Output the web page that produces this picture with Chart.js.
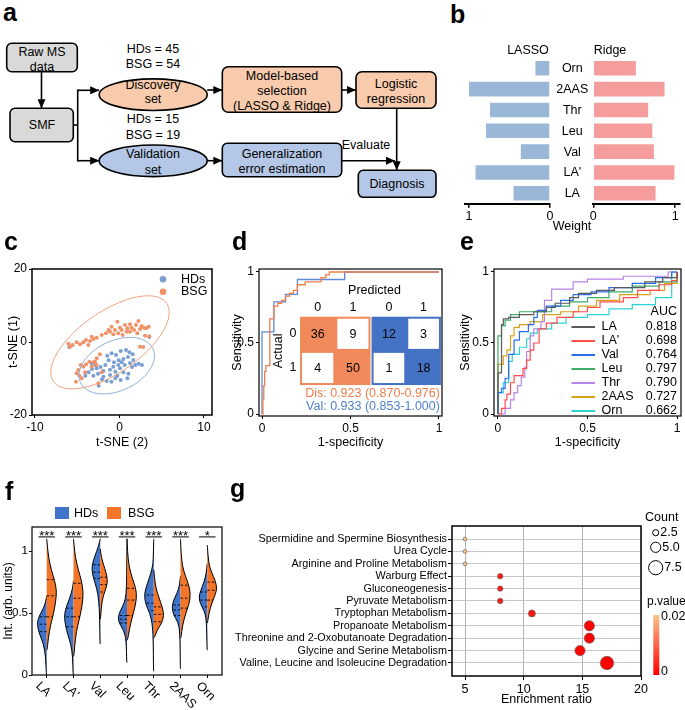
<!DOCTYPE html>
<html>
<head>
<meta charset="utf-8">
<title>Figure</title>
<script src="https://cdn.jsdelivr.net/npm/chart.js@4.4.1/dist/chart.umd.min.js"></script>
<style>
  body { margin:0; background:#fff; }
  #fig { position:relative; width:685px; height:710px; overflow:hidden; font-family:Arial, "Liberation Sans", Helvetica, sans-serif; color:#000; }
  #fig canvas, #fig svg, .tag, .txt, .sw { position:absolute; }
  .tag { font-weight:bold; font-size:25px; line-height:25px; }
  .txt { font-size:12.5px; line-height:14px; white-space:nowrap; }
  .mid { transform:translateX(-50%); }
</style>
</head>
<body>
<div id="fig">
  <svg id="flow" style="left:0;top:0" width="445" height="205" font-family="Arial, Liberation Sans, sans-serif" font-size="12.5" text-anchor="middle">
    <defs>
      <marker id="ah" markerUnits="userSpaceOnUse" markerWidth="9" markerHeight="8" refX="9" refY="4" orient="auto"><path d="M0,0 L9,4 L0,8 z" fill="#000"/></marker>
    </defs>
    <g stroke="#000" stroke-width="1.6">
      <rect x="6.7" y="43.3" width="70.6" height="28.4" rx="5" fill="#d9d9d9"/>
      <rect x="10" y="108.3" width="63.3" height="33.4" rx="5" fill="#d9d9d9"/>
      <ellipse cx="153.2" cy="94.7" rx="54" ry="15.8" fill="#f8cbad"/>
      <ellipse cx="153.2" cy="160.8" rx="54" ry="15.8" fill="#b4c7e7"/>
      <rect x="222.3" y="66.7" width="119.4" height="45.6" rx="6" fill="#f8cbad"/>
      <rect x="356" y="71.7" width="80" height="36.6" rx="6" fill="#f8cbad"/>
      <rect x="222.3" y="143.3" width="119.4" height="33.4" rx="5" fill="#b4c7e7"/>
      <rect x="358.3" y="170.3" width="77.7" height="27" rx="5" fill="#b4c7e7"/>
      <line x1="41.5" y1="71.7" x2="41.5" y2="108.3" marker-end="url(#ah)"/>
      <polyline points="73.3,125 77.7,125" fill="none"/>
      <line x1="77.7" y1="89.5" x2="77.7" y2="161.5"/>
      <line x1="77.7" y1="90.3" x2="99.2" y2="90.3" marker-end="url(#ah)"/>
      <line x1="77.7" y1="160.7" x2="99.2" y2="160.7" marker-end="url(#ah)"/>
      <line x1="207.2" y1="90" x2="222.3" y2="90" marker-end="url(#ah)"/>
      <line x1="341.7" y1="90" x2="356" y2="90" marker-end="url(#ah)"/>
      <line x1="207.2" y1="160.7" x2="222.3" y2="160.7" marker-end="url(#ah)"/>
      <line x1="341.7" y1="160.7" x2="395" y2="160.7" marker-end="url(#ah)"/>
      <line x1="396.7" y1="108.3" x2="396.7" y2="170.3" marker-end="url(#ah)"/>
    </g>
    <text x="42" y="56.1">Raw MS</text>
    <text x="42" y="71">data</text>
    <text x="42" y="129.4">SMF</text>
    <text x="153" y="53.4">HDs = 45</text>
    <text x="153" y="68.4">BSG = 54</text>
    <text x="153" y="89.4">Discovery</text>
    <text x="153" y="103.4">set</text>
    <text x="153" y="123.4">HDs = 15</text>
    <text x="153" y="139.4">BSG = 19</text>
    <text x="153" y="158.4">Validation</text>
    <text x="153" y="173.7">set</text>
    <text x="282" y="80.4">Model-based</text>
    <text x="282" y="95">selection</text>
    <text x="282" y="110.4">(LASSO &amp; Ridge)</text>
    <text x="396" y="87.7">Logistic</text>
    <text x="396" y="102.7">regression</text>
    <text x="282" y="158.4">Generalization</text>
    <text x="282" y="173.4">error estimation</text>
    <text x="366" y="149.4">Evaluate</text>
    <text x="397" y="188.4">Diagnosis</text>
  </svg>

  <canvas id="cB1" width="160" height="200" style="left:440px;top:40px"></canvas>
  <canvas id="cB2" width="100" height="200" style="left:585px;top:40px"></canvas>
  <canvas id="cC" width="228" height="200" style="left:0px;top:250px"></canvas>
  <canvas id="cD" width="228" height="200" style="left:228px;top:250px"></canvas>
  <canvas id="cE" width="229" height="200" style="left:456px;top:250px"></canvas>
  <canvas id="cF" width="228" height="215" style="left:0px;top:495px"></canvas>
  <canvas id="cG" width="453" height="220" style="left:232px;top:490px"></canvas>

  <div class="tag" style="left:3px;top:0px">a</div>
  <div class="tag" style="left:450px;top:2px">b</div>
  <div class="tag" style="left:4px;top:229px">c</div>
  <div class="tag" style="left:232px;top:229px">d</div>
  <div class="tag" style="left:460px;top:229px">e</div>
  <div class="tag" style="left:5px;top:479px">f</div>
  <div class="tag" style="left:230px;top:476px">g</div>

  <div class="txt mid" style="left:528px;top:43px">LASSO</div>
  <div class="txt mid" style="left:610px;top:43px">Ridge</div>
  <div class="txt mid" style="left:572px;top:219px">Weight</div>

  <div class="sw" style="left:55px;top:506.7px;width:14px;height:12.3px;background:#3f74c8"></div>
  <div class="txt" style="left:74px;top:505.5px">HDs</div>
  <div class="sw" style="left:107.3px;top:506.7px;width:14px;height:12.3px;background:#f47428"></div>
  <div class="txt" style="left:128px;top:505.5px">BSG</div>
</div>

<script>
// ---------------- data ----------------
// b: model weights
var featNames = ['Orn', '2AAS', 'Thr', 'Leu', 'Val', "LA'", 'LA'];
var lassoWeight = [0.18, 1.0, 0.74, 0.79, 0.36, 0.92, 0.45];
var ridgeWeight = [0.52, 0.87, 0.67, 0.72, 0.74, 0.99, 0.76];
var weightTicks = [0, 1];

// c: t-SNE embedding, [t-SNE (2), t-SNE (1)]
var tsneBSG = [[-2.11,1.92],[-1.60,2.38],[-1.12,2.84],[-0.93,4.21],[-0.53,3.29],[-0.25,5.57],[0.06,3.93],[0.38,1.92],[0.65,4.66],[0.93,3.75],
  [1.24,4.84],[1.44,3.93],[1.72,3.29],[1.95,4.66],[2.11,2.38],[2.23,5.76],[2.43,3.57],[2.62,4.39],[2.90,3.93],[3.14,3.75],
  [3.45,4.21],[1.24,2.84],[-0.14,2.38],[-0.73,2.10],[0.85,2.84],[-1.30,3.30],[0.26,3.30],[-2.70,1.19],[-3.09,0.83],[-3.49,0.28],
  [-3.96,0.55],[-4.28,-0.09],[-4.67,-0.64],[-5.07,-0.09],[-5.54,-0.82],[-6.05,-0.45],[-5.86,-1.27],[-3.69,-0.82],[-3.29,1.47],[3.02,1.74],
  [3.53,1.56],[2.43,-1.27],[2.82,-1.37],[-2.31,-3.37],[-2.70,-4.47],[-3.09,-5.57],[-3.57,-5.38],[-3.96,-6.11],[-4.28,-6.75],[-4.59,-6.30],
  [-4.87,-7.67],[-5.07,-8.58],[-4.75,-9.22],[-5.15,-10.86],[-4.48,-9.95],[-2.70,-6.30],[-2.11,-8.31],[-2.50,-11.32],[-4.08,-8.31],[-3.29,-6.75],[-2.90,-5.38]];
var tsneHDs = [[-0.93,-3.10],[-0.41,-3.56],[0.14,-2.46],[0.77,-2.19],[1.17,-2.83],[1.56,-3.37],[1.01,-4.11],[0.46,-4.65],[-0.10,-5.02],[-0.65,-5.57],
  [-1.28,-5.02],[-1.67,-6.30],[-2.23,-6.85],[-2.86,-6.30],[-3.25,-7.39],[-3.65,-8.31],[-4.04,-9.22],[-3.09,-9.22],[-2.54,-8.67],[-1.91,-7.94],
  [-1.12,-7.58],[-0.49,-8.12],[0.06,-7.21],[0.61,-6.30],[1.24,-5.75],[1.88,-6.30],[2.27,-5.93],[2.66,-6.30],[0.46,-8.31],[1.05,-8.67],
  [0.93,-9.95],[0.14,-10.41],[-0.49,-9.95],[-0.96,-10.86],[-1.52,-10.68],[-2.07,-10.30],[-2.46,-11.96],[-0.25,-9.22],[1.48,-6.85],[-1.44,-3.74],
  [3.53,1.37],[-5.94,-1.37],[-1.12,-9.04],[0.26,-5.57],[1.64,-4.93],[-3.29,-5.84],[-2.70,-7.21],[-0.14,-6.30],[-0.73,-6.75],[-1.91,-9.49]];
// confidence ellipses: centre and two semi-axis vectors (data units)
var ellHDs = { c: [-0.33, -6.48], u: [4.29, 4.63], v: [1.25, -6.21] };
var ellBSG = { c: [-1.12, -0.09], u: [6.70, 10.70], v: [2.05, -6.94] };

// d: ROC corners (1-specificity, sensitivity)
var rocDis = [[0,0],[0.005,0.1],[0.01,0.2],[0.015,0.3],[0.022,0.34],[0.044,0.67],[0.067,0.76],[0.089,0.78],[0.111,0.8],[0.133,0.83],
  [0.156,0.85],[0.178,0.87],[0.2,0.91],[0.244,0.93],[0.333,0.96],[0.36,0.98],[0.38,1],[1,1]];
var rocVal = [[0,0],[0,0.579],[0.067,0.789],[0.133,0.842],[0.2,0.947],[0.467,1],[1,1]];
var confDis = [[36, 9], [4, 50]];
var confVal = [[12, 3], [1, 18]];
var aucDis = 'Dis: 0.923 (0.870-0.976)';
var aucVal = 'Val: 0.933 (0.853-1.000)';

// e: single-metabolite ROC curves
var rocNames = ['LA', "LA'", 'Val', 'Leu', 'Thr', '2AAS', 'Orn'];
var rocAuc = [0.818, 0.698, 0.764, 0.797, 0.790, 0.727, 0.662];
var rocLA = [[0,0],[0,0.29],[0.02,0.63],[0.03,0.67],[0.06,0.68],[0.12,0.70],[0.2,0.72],[0.27,0.75],[0.32,0.78],[0.4,0.82],[0.45,0.85],[0.55,0.87],[0.65,0.89],[0.82,0.93],[0.92,0.96],[1,1]];
var rocLA2 = [[0,0],[0.02,0.04],[0.04,0.1],[0.05,0.14],[0.07,0.22],[0.09,0.27],[0.14,0.32],[0.16,0.38],[0.18,0.45],[0.2,0.5],[0.23,0.6],[0.27,0.64],[0.33,0.68],[0.42,0.72],[0.5,0.75],[0.57,0.79],[0.7,0.82],[0.78,0.87],[0.9,0.91],[0.97,0.94],[1,1]];
var rocVal1 = [[0,0],[0,0.15],[0.02,0.18],[0.04,0.25],[0.06,0.42],[0.09,0.52],[0.12,0.58],[0.17,0.63],[0.2,0.68],[0.22,0.73],[0.27,0.76],[0.35,0.8],[0.42,0.84],[0.52,0.86],[0.62,0.89],[0.75,0.92],[0.88,0.96],[0.97,1],[1,1]];
var rocLeu = [[0,0],[0,0.55],[0.02,0.62],[0.04,0.66],[0.07,0.70],[0.12,0.72],[0.3,0.76],[0.4,0.79],[0.5,0.82],[0.62,0.86],[0.75,0.9],[0.9,0.93],[1,1]];
var rocThr = [[0,0],[0.04,0.04],[0.07,0.1],[0.09,0.15],[0.11,0.2],[0.13,0.26],[0.15,0.33],[0.16,0.44],[0.18,0.55],[0.2,0.6],[0.24,0.65],[0.26,0.8],[0.3,0.88],[0.42,0.93],[0.5,0.95],[0.7,0.97],[0.95,1],[1,1]];
var roc2AAS = [[0,0],[0,0.35],[0.03,0.41],[0.05,0.45],[0.07,0.55],[0.09,0.61],[0.12,0.63],[0.18,0.65],[0.25,0.7],[0.35,0.72],[0.45,0.76],[0.55,0.8],[0.68,0.84],[0.85,0.87],[0.93,0.92],[1,1]];
var rocOrn = [[0,0],[0,0.15],[0.03,0.22],[0.06,0.37],[0.08,0.42],[0.12,0.47],[0.16,0.53],[0.18,0.57],[0.22,0.6],[0.3,0.64],[0.38,0.68],[0.5,0.7],[0.62,0.74],[0.75,0.77],[0.88,0.82],[0.97,1],[1,1]];
var rocCurves = [rocLA, rocLA2, rocVal1, rocLeu, rocThr, roc2AAS, rocOrn];
var rocColors = ['#5a5a5a', '#ff4d4d', '#2a6ee8', '#3dab6a', '#b585ea', '#d9a21b', '#2fd3d3'];
var rocTicks = [0, 0.5, 1];

// f: split violins, profile = [intensity, half width], quartiles = [Q1, median, Q3]
var violinNames = ['LA', "LA'", 'Val', 'Leu', 'Thr', '2AAS', 'Orn'];
var hdsViolin = [
  [[0,0.015],[0.15,0.04],[0.25,0.12],[0.33,0.27],[0.4,0.35],[0.45,0.33],[0.5,0.22],[0.55,0.1],[0.6,0.03],[0.64,0]],
  [[0,0.015],[0.15,0.03],[0.25,0.1],[0.33,0.22],[0.4,0.3],[0.47,0.34],[0.53,0.3],[0.6,0.18],[0.66,0.08],[0.72,0.02],[0.76,0]],
  [[0.25,0.01],[0.45,0.02],[0.6,0.05],[0.7,0.13],[0.78,0.25],[0.85,0.32],[0.92,0.27],[1.0,0.13],[1.06,0.04],[1.1,0]],
  [[0.1,0.01],[0.28,0.03],[0.36,0.12],[0.42,0.3],[0.47,0.33],[0.52,0.25],[0.58,0.1],[0.65,0.03],[0.8,0.01],[1.1,0]],
  [[0.03,0.01],[0.3,0.02],[0.42,0.06],[0.5,0.15],[0.57,0.3],[0.64,0.35],[0.7,0.3],[0.78,0.17],[0.86,0.06],[0.92,0.02],[1.1,0]],
  [[0.05,0.01],[0.35,0.02],[0.43,0.1],[0.48,0.25],[0.54,0.32],[0.6,0.27],[0.66,0.13],[0.72,0.04],[0.8,0]],
  [[0.2,0.01],[0.45,0.03],[0.52,0.12],[0.58,0.27],[0.63,0.31],[0.68,0.25],[0.75,0.12],[0.82,0.04],[0.9,0]]
];
var bsgViolin = [
  [[0.2,0.015],[0.3,0.06],[0.4,0.14],[0.5,0.26],[0.6,0.34],[0.68,0.37],[0.76,0.3],[0.85,0.17],[0.95,0.07],[1.05,0.02],[1.1,0]],
  [[0.15,0.015],[0.3,0.07],[0.4,0.16],[0.5,0.27],[0.6,0.35],[0.68,0.36],[0.76,0.3],[0.85,0.18],[0.95,0.07],[1.05,0.02],[1.1,0]],
  [[0.45,0.01],[0.6,0.06],[0.68,0.18],[0.74,0.27],[0.8,0.25],[0.86,0.17],[0.92,0.08],[0.98,0.02],[1.02,0]],
  [[0.28,0.02],[0.38,0.1],[0.47,0.2],[0.55,0.3],[0.63,0.36],[0.7,0.33],[0.78,0.2],[0.88,0.07],[1.0,0.02],[1.1,0]],
  [[0.3,0.02],[0.36,0.12],[0.42,0.3],[0.48,0.38],[0.55,0.32],[0.62,0.2],[0.7,0.08],[0.8,0.02],[0.85,0]],
  [[0.3,0.02],[0.4,0.07],[0.5,0.2],[0.58,0.33],[0.65,0.37],[0.72,0.32],[0.8,0.18],[0.88,0.07],[0.98,0.02],[1.1,0]],
  [[0.42,0.01],[0.5,0.06],[0.58,0.17],[0.65,0.3],[0.7,0.36],[0.76,0.3],[0.83,0.16],[0.9,0.05],[1.05,0]]
];
var hdsQuart = [[0.35,0.41,0.47],[0.39,0.47,0.54],[0.78,0.83,0.89],[0.42,0.45,0.48],[0.52,0.58,0.645],[0.48,0.525,0.565],[0.55,0.605,0.67]];
var bsgQuart = [[0.47,0.64,0.77],[0.47,0.62,0.74],[0.67,0.73,0.79],[0.48,0.605,0.70],[0.43,0.49,0.55],[0.54,0.62,0.725],[0.605,0.685,0.75]];
var sigMarks = ['***', '***', '***', '***', '***', '***', '*'];
var intTicks = [0, 0.5, 1];

// g: pathway enrichment
var pathways = ['Spermidine and Spermine Biosynthesis', 'Urea Cycle', 'Arginine and Proline Metabolism', 'Warburg Effect',
  'Gluconeogenesis', 'Pyruvate Metabolism', 'Tryptophan Metabolism', 'Propanoate Metabolism',
  'Threonine and 2-Oxobutanoate Degradation', 'Glycine and Serine Metabolism', 'Valine, Leucine and Isoleucine Degradation'];
var enrichRatio = [5.0, 5.0, 5.0, 8.0, 8.0, 8.0, 10.7, 15.6, 15.6, 14.8, 17.1];
var pathCount = [1, 1, 1, 2, 2, 2, 3, 5, 5, 5, 7];
var pathP = [0.02, 0.02, 0.02, 0.003, 0.003, 0.003, 0.002, 0.0003, 0.0003, 0.0004, 0.00005];
var ratioTicks = [5, 10, 15, 20];
var countTicks = [2.5, 5.0, 7.5];
var pTicks = [0.02, 0];

// ---------------- setup ----------------
var FONT = 'Arial, "Liberation Sans", Helvetica, sans-serif';
Chart.defaults.font.family = FONT;
Chart.defaults.font.size = 12;
Chart.defaults.color = '#000';
Chart.defaults.animation = false;
Chart.defaults.responsive = false;
Chart.defaults.plugins.legend.display = false;
Chart.defaults.plugins.tooltip.enabled = false;

function fixSize(n){ return function(s){ if (s.isHorizontal()) s.height = n; else s.width = n; }; }
function setTicks(vals){ return function(s){ s.ticks = vals.map(function(v){ return {value: v}; }); }; }
function pts(arr){ return arr.map(function(p){ return {x: p[0], y: p[1]}; }); }

function axis(min, max, ticks, size, title){
  return {
    type: 'linear', min: min, max: max,
    afterBuildTicks: setTicks(ticks), afterFit: fixSize(size),
    border: {display: false},
    grid: {drawOnChartArea: false, color: '#000', tickLength: 3},
    ticks: {padding: 2, maxRotation: 0, autoSkip: false, callback: function(v){ return String(v); }},
    title: title ? {display: true, text: title, font: {size: 12.5}, padding: 0} : {display: false}
  };
}

function framePlugin(lw){
  return { id: 'frame', afterDraw: function(chart){
    var a = chart.chartArea, ctx = chart.ctx;
    ctx.save(); ctx.strokeStyle = '#000'; ctx.lineWidth = lw;
    ctx.strokeRect(a.left, a.top, a.right - a.left, a.bottom - a.top);
    ctx.restore();
  }};
}

function smooth(ctx, p){
  ctx.moveTo(p[0][0], p[0][1]);
  for (var k = 1; k < p.length - 1; k++){
    ctx.quadraticCurveTo(p[k][0], p[k][1], (p[k][0] + p[k+1][0]) / 2, (p[k][1] + p[k+1][1]) / 2);
  }
  ctx.lineTo(p[p.length-1][0], p[p.length-1][1]);
}

// ---------------- b ----------------
function weightAxis(rev){
  return {
    min: 0, max: 1.05, reverse: rev,
    afterBuildTicks: setTicks(weightTicks), afterFit: fixSize(20),
    border: {color: '#000', width: 2},
    grid: {drawOnChartArea: false, color: '#000', tickLength: 4, lineWidth: 1.5},
    ticks: {padding: 1, font: {size: 12.5}, callback: function(v){ return String(v); }}
  };
}
var featLabels = { id: 'featLabels', afterDraw: function(chart){
  var a = chart.chartArea, ys = chart.scales.y, ctx = chart.ctx;
  ctx.save(); ctx.font = '12.5px ' + FONT; ctx.fillStyle = '#000'; ctx.textAlign = 'center'; ctx.textBaseline = 'middle';
  featNames.forEach(function(n, i){ ctx.fillText(n, a.right + 22.3, ys.getPixelForValue(i) + 0.5); });
  ctx.restore();
}};
new Chart(document.getElementById('cB1'), {
  type: 'bar',
  data: {labels: featNames, datasets: [{data: lassoWeight, backgroundColor: '#9bb7d7', barPercentage: 0.7, categoryPercentage: 1}]},
  options: {
    indexAxis: 'y',
    layout: {padding: {left: 25, right: 7, top: 17.9, bottom: 16.3}},
    scales: {
      x: weightAxis(true),
      y: {position: 'right', afterFit: fixSize(43), grid: {display: false}, border: {display: false}, ticks: {display: false}}
    }
  },
  plugins: [featLabels]
});
new Chart(document.getElementById('cB2'), {
  type: 'bar',
  data: {labels: featNames, datasets: [{data: ridgeWeight, backgroundColor: '#f59d9d', barPercentage: 0.7, categoryPercentage: 1}]},
  options: {
    indexAxis: 'y',
    layout: {padding: {left: 8.3, right: 5.7, top: 17.9, bottom: 16.3}},
    scales: { x: weightAxis(false), y: {display: false} }
  }
});

// ---------------- c ----------------
function drawEllipse(chart, e, color){
  var xs = chart.scales.x, ys = chart.scales.y, ctx = chart.ctx;
  ctx.save(); ctx.strokeStyle = color; ctx.lineWidth = 1; ctx.beginPath();
  for (var k = 0; k <= 90; k++){
    var t = k / 90 * 2 * Math.PI;
    var px = xs.getPixelForValue(e.c[0] + e.u[0] * Math.cos(t) + e.v[0] * Math.sin(t));
    var py = ys.getPixelForValue(e.c[1] + e.u[1] * Math.cos(t) + e.v[1] * Math.sin(t));
    if (k) ctx.lineTo(px, py); else ctx.moveTo(px, py);
  }
  ctx.stroke(); ctx.restore();
}
var tsnePlugin = { id: 'tsne', afterDatasetsDraw: function(chart){
  drawEllipse(chart, ellBSG, '#f0a07c');
  drawEllipse(chart, ellHDs, '#8cadda');
  var a = chart.chartArea, ctx = chart.ctx;
  ctx.save(); ctx.font = '12.5px ' + FONT; ctx.textBaseline = 'middle'; ctx.textAlign = 'left';
  [['HDs', '#7a9fd4'], ['BSG', '#ef9266']].forEach(function(l, i){
    var y = a.top + 10.3 + i * 12.4;
    ctx.fillStyle = l[1]; ctx.beginPath(); ctx.arc(a.left + 131, y, 3.3, 0, 2 * Math.PI); ctx.fill();
    ctx.fillStyle = '#000'; ctx.fillText(l[0], a.left + 149, y);
  });
  ctx.restore();
}};
new Chart(document.getElementById('cC'), {
  type: 'scatter',
  data: {datasets: [
    {data: pts(tsneBSG), backgroundColor: '#ef9266', pointRadius: 2, borderWidth: 0},
    {data: pts(tsneHDs), backgroundColor: '#7a9fd4', pointRadius: 2, borderWidth: 0}
  ]},
  options: {
    layout: {padding: {left: 6, right: 16, top: 19, bottom: 0}},
    scales: { x: axis(-10.355, 10.95, [-10, 0, 10], 35, 't-SNE (2)'), y: axis(-20, 20, [-20, 0, 20], 26, 't-SNE (1)') }
  },
  plugins: [framePlugin(1.5), tsnePlugin]
});

// ---------------- d ----------------
var confPlugin = { id: 'conf', afterDatasetsDraw: function(chart){
  var xs = chart.scales.x, ys = chart.scales.y, ctx = chart.ctx;
  var top = ys.getPixelForValue(0.685), bot = ys.getPixelForValue(0.204);
  var blocks = [{m: confDis, x0: 0.215, x1: 0.613, col: '#f2895a'}, {m: confVal, x0: 0.619, x1: 1.011, col: '#4472c4'}];
  ctx.save();
  ctx.textAlign = 'center'; ctx.textBaseline = 'middle'; ctx.font = '12.5px ' + FONT;
  blocks.forEach(function(b){
    var L = xs.getPixelForValue(b.x0), R = xs.getPixelForValue(b.x1);
    var cw = (R - L) / 2, ch = (bot - top) / 2;
    b.L = L; b.R = R;
    ctx.fillStyle = b.col; ctx.fillRect(L, top, R - L, bot - top);
    for (var r = 0; r < 2; r++){
      for (var c = 0; c < 2; c++){
        var cx = L + c * cw, cy = top + r * ch;
        if (r !== c){ ctx.fillStyle = '#fff'; ctx.fillRect(cx + 2, cy + 2, cw - 4, ch - 4); }
        ctx.fillStyle = '#000'; ctx.fillText(String(b.m[r][c]), cx + cw / 2, cy + ch / 2 + 1);
      }
      ctx.fillText(String(r), L + (r + 0.5) * cw, top - 9);
    }
  });
  var ch2 = (bot - top) / 2;
  ctx.fillText('0', blocks[0].L - 7, top + 0.5 * ch2);
  ctx.fillText('1', blocks[0].L - 7, top + 1.5 * ch2);
  ctx.fillText('Predicted', (blocks[0].L + blocks[1].R) / 2 + 4, top - 26);
  ctx.save(); ctx.translate(blocks[0].L - 22, (top + bot) / 2); ctx.rotate(-Math.PI / 2); ctx.fillText('Actual', 0, 0); ctx.restore();
  ctx.textAlign = 'right';
  ctx.fillStyle = '#f07d4c'; ctx.fillText(aucDis, blocks[1].R - 1, bot + 8.5);
  ctx.fillStyle = '#4f7fcd'; ctx.fillText(aucVal, blocks[1].R - 1, bot + 22);
  ctx.restore();
}};
new Chart(document.getElementById('cD'), {
  type: 'scatter',
  data: {datasets: [
    {data: pts(rocDis), showLine: true, stepped: 'before', borderColor: '#f07d4c', borderWidth: 1.3, pointRadius: 0},
    {data: pts(rocVal), showLine: true, stepped: 'before', borderColor: '#5d8bd6', borderWidth: 1.3, pointRadius: 0}
  ]},
  options: {
    layout: {padding: {left: 2, right: 14, top: 19, bottom: 0}},
    scales: { x: axis(-0.017, 1.017, rocTicks, 34, '1-specificity'), y: axis(-0.014, 1.021, rocTicks, 29, 'Sensitivity') }
  },
  plugins: [framePlugin(1.2), confPlugin]
});

// ---------------- e ----------------
var rocLegend = { id: 'rocLegend', afterDatasetsDraw: function(chart){
  var a = chart.chartArea, ctx = chart.ctx;
  ctx.save(); ctx.font = '12.5px ' + FONT; ctx.fillStyle = '#000'; ctx.textBaseline = 'middle';
  ctx.textAlign = 'right'; ctx.fillText('AUC', a.right - 4, a.top + 43);
  rocNames.forEach(function(n, i){
    var y = a.top + 58 + i * 14;
    ctx.strokeStyle = rocColors[i]; ctx.lineWidth = 2;
    ctx.beginPath(); ctx.moveTo(a.right - 109.5, y); ctx.lineTo(a.right - 86, y); ctx.stroke();
    ctx.textAlign = 'left'; ctx.fillText(n, a.right - 79.5, y);
    ctx.textAlign = 'right'; ctx.fillText(rocAuc[i].toFixed(3), a.right - 4, y);
  });
  ctx.restore();
}};
new Chart(document.getElementById('cE'), {
  type: 'scatter',
  data: {datasets: rocCurves.map(function(c, i){
    return {data: pts(c), showLine: true, stepped: 'before', borderColor: rocColors[i], borderWidth: 1.2, pointRadius: 0};
  })},
  options: {
    layout: {padding: {left: 2, right: 4, top: 19, bottom: 0}},
    scales: { x: axis(-0.022, 1.022, rocTicks, 34, '1-specificity'), y: axis(-0.014, 1.021, rocTicks, 36, 'Sensitivity') }
  },
  plugins: [framePlugin(1.2), rocLegend]
});

// ---------------- f ----------------
function widthAt(prof, q){
  for (var k = 0; k < prof.length - 1; k++){
    var a = prof[k], b = prof[k+1];
    if (q >= a[0] && q <= b[0]) return a[1] + (b[1] - a[1]) * (q - a[0]) / (b[0] - a[0]);
  }
  return 0;
}
var violinPlugin = { id: 'violins', afterDatasetsDraw: function(chart){
  var xs = chart.scales.x, ys = chart.scales.y, ctx = chart.ctx;
  function P(x, y){ return [xs.getPixelForValue(x), ys.getPixelForValue(y)]; }
  function half(i, prof, quart, side, color){
    var p = [P(i, prof[0][0])];
    prof.forEach(function(q){ p.push(P(i + side * q[1], q[0])); });
    p.push(P(i, prof[prof.length-1][0]));
    ctx.beginPath(); smooth(ctx, p); ctx.closePath(); ctx.fillStyle = color; ctx.fill();
    ctx.beginPath(); smooth(ctx, p); ctx.strokeStyle = '#000'; ctx.lineWidth = 1; ctx.stroke();
    ctx.setLineDash([2.5, 2]); ctx.lineWidth = 0.9;
    quart.forEach(function(q){
      var a = P(i, q), b = P(i + side * widthAt(prof, q), q);
      ctx.beginPath(); ctx.moveTo(a[0], a[1]); ctx.lineTo(b[0], b[1]); ctx.stroke();
    });
    ctx.setLineDash([]);
  }
  ctx.save();
  violinNames.forEach(function(n, i){
    half(i, hdsViolin[i], hdsQuart[i], -1, '#3f74c8');
    half(i, bsgViolin[i], bsgQuart[i], 1, '#f47428');
    var l = P(i - 0.31, 1.115), r = P(i + 0.31, 1.115);
    ctx.strokeStyle = '#000'; ctx.lineWidth = 1;
    ctx.beginPath(); ctx.moveTo(l[0], l[1]); ctx.lineTo(r[0], r[1]); ctx.stroke();
    ctx.fillStyle = '#000'; ctx.font = '13px ' + FONT; ctx.textAlign = 'center'; ctx.textBaseline = 'alphabetic';
    ctx.fillText(sigMarks[i], (l[0] + r[0]) / 2, l[1] + 3);
    var t = P(i, 0);
    ctx.save(); ctx.translate(t[0] - 9, chart.chartArea.bottom + 9); ctx.rotate(Math.PI / 4);
    ctx.textAlign = 'left'; ctx.textBaseline = 'middle'; ctx.font = '12.5px ' + FONT; ctx.fillText(n, 0, 0);
    ctx.restore();
  });
  ctx.restore();
}};
var fx = axis(-0.55, 6.55, [0, 1, 2, 3, 4, 5, 6], 35, null);
fx.ticks.display = false;
var fy = axis(0, 1.195, intTicks, 31, 'Int. (arb. units)');
fy.ticks.padding = 1;
fy.ticks.font = {size: 11.5};
fy.title.font = {size: 12};
new Chart(document.getElementById('cF'), {
  type: 'scatter',
  data: {datasets: []},
  options: {
    layout: {padding: {left: 1, right: 6, top: 32, bottom: 0}},
    scales: { x: fx, y: fy }
  },
  plugins: [violinPlugin, framePlugin(1.2)]
});

// ---------------- g ----------------
function bubbleR(n){ return 1.1 + 0.8 * n; }
function pColor(p){
  var t = Math.min(p / 0.02, 1);
  return 'rgb(' + Math.round(255 - 7 * t) + ',' + Math.round(197 * t) + ',' + Math.round(140 * t) + ')';
}
var gLegend = { id: 'gLegend', afterDraw: function(chart){
  var a = chart.chartArea, ctx = chart.ctx;
  ctx.save(); ctx.fillStyle = '#000'; ctx.font = '12.5px ' + FONT; ctx.textBaseline = 'middle'; ctx.textAlign = 'left';
  ctx.fillText('Count', a.right + 4, a.top - 8);
  var cy = [6.7, 21.3, 41.7];
  ctx.strokeStyle = '#000'; ctx.lineWidth = 1;
  countTicks.forEach(function(c, i){
    var r = bubbleR(c), x = a.right + 14.7, y = a.top + cy[i];
    ctx.beginPath(); ctx.arc(x, y, r, 0, 2 * Math.PI); ctx.stroke();
    ctx.fillText(c.toFixed(1), x + r + 1.5, y);
  });
  ctx.font = '12px ' + FONT;
  ctx.fillText('p.value', a.right + 6, a.top + 76);
  var y0 = a.top + 89, y1 = a.bottom - 1;
  var g = ctx.createLinearGradient(0, y0, 0, y1);
  g.addColorStop(0, pColor(pTicks[0])); g.addColorStop(1, pColor(pTicks[1]));
  ctx.fillStyle = g; ctx.fillRect(a.right + 12.3, y0, 6, y1 - y0);
  ctx.fillStyle = '#000'; ctx.font = '12.5px ' + FONT;
  ctx.fillText(String(pTicks[0]), a.right + 20, y0 + 2);
  ctx.fillText(String(pTicks[1]), a.right + 20, y1 - 3);
  ctx.restore();
}};
new Chart(document.getElementById('cG'), {
  type: 'bubble',
  data: {datasets: [{
    data: pathways.map(function(n, i){ return {x: enrichRatio[i], y: i, r: bubbleR(pathCount[i])}; }),
    backgroundColor: pathP.map(pColor), borderColor: '#555', borderWidth: 0.6
  }]},
  options: {
    layout: {padding: {left: 0, right: 44, top: 36, bottom: 0}},
    scales: {
      x: {type: 'linear', min: 3.89, max: 20, afterBuildTicks: setTicks(ratioTicks), afterFit: fixSize(34),
          border: {display: false}, grid: {color: '#b4b4b4', tickColor: '#000', tickLength: 4},
          ticks: {padding: 2, maxRotation: 0, autoSkip: false, font: {size: 12.5}},
          title: {display: true, text: 'Enrichment ratio', font: {size: 12.5}, padding: {top: 0, bottom: 3}}},
      y: {type: 'linear', min: -1.05, max: 11.05, reverse: true, afterBuildTicks: setTicks(pathways.map(function(n, i){ return i; })),
          afterFit: fixSize(220), border: {display: false}, grid: {color: '#c8c8c8', tickColor: '#000', tickLength: 4},
          ticks: {padding: 1, autoSkip: false, font: {size: 10.8}, callback: function(v){ return pathways[v]; }}}
    }
  },
  plugins: [framePlugin(1.5), gLegend]
});
</script>
</body>
</html>
